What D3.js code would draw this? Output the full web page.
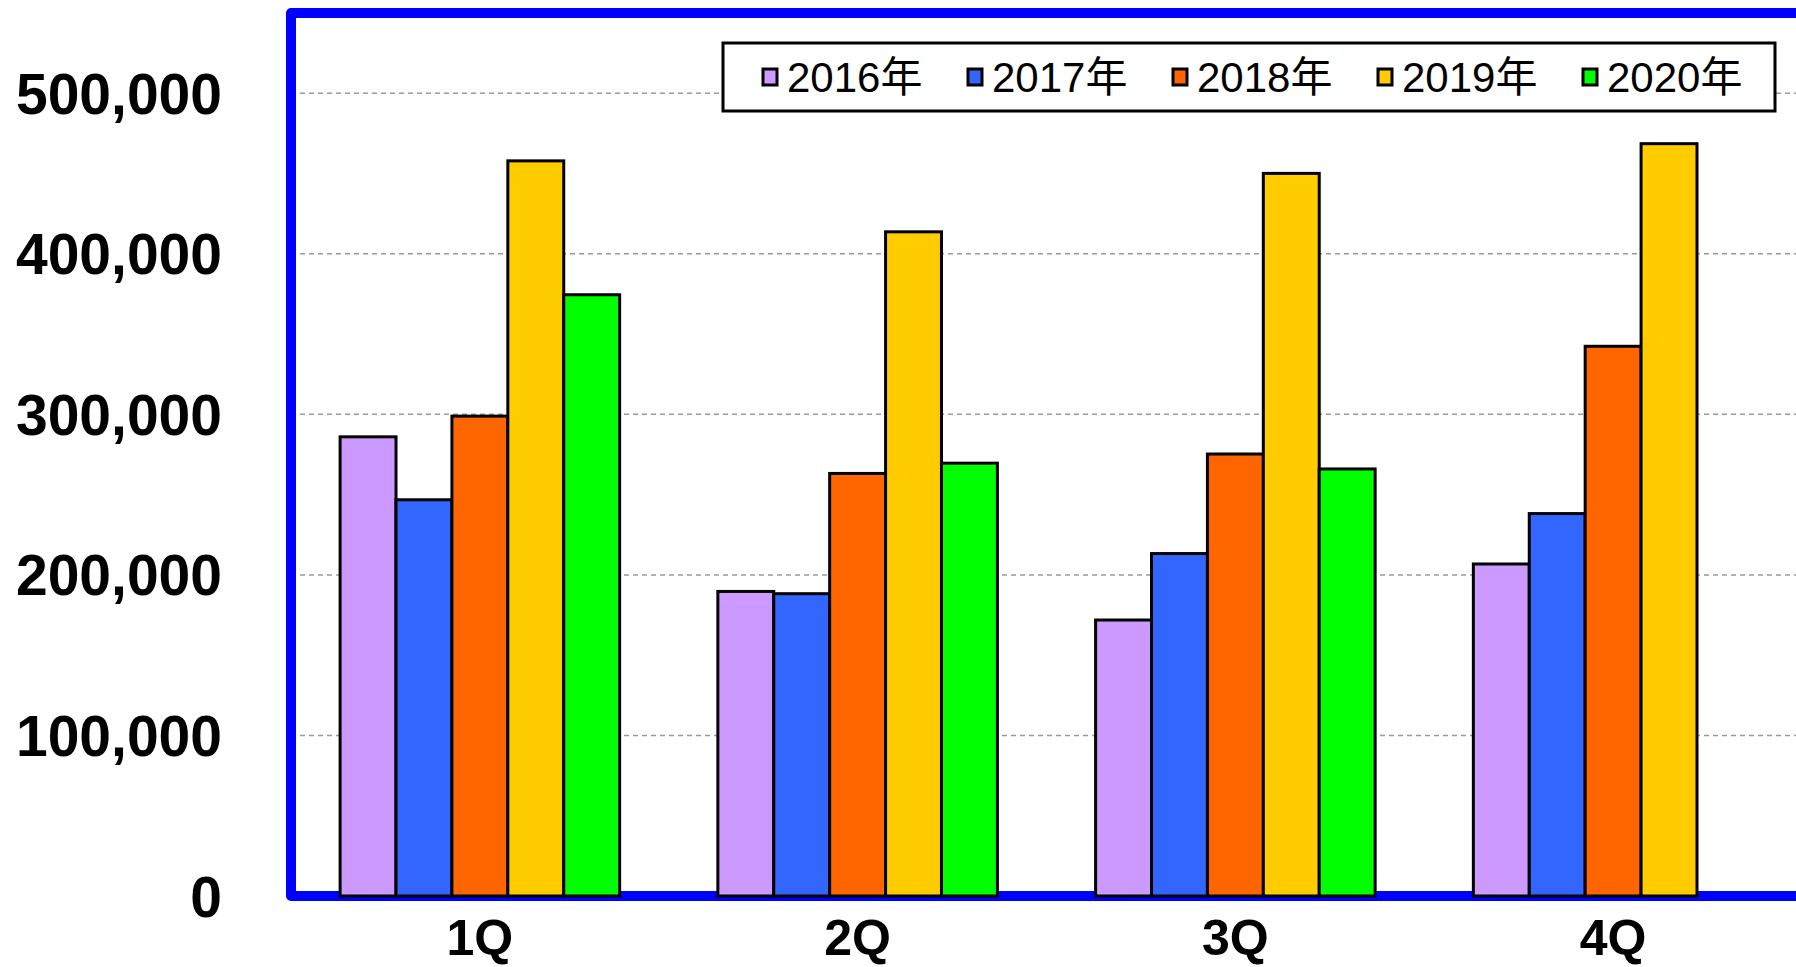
<!DOCTYPE html>
<html>
<head>
<meta charset="utf-8">
<script src="https://cdn.jsdelivr.net/npm/d3@7"></script>
<style>
  body { margin: 0; background: #fff; }
  svg { display: block; }
</style>
</head>
<body>
<div id="my_dataviz"></div>
<script>
// data
var quarters = ["1Q", "2Q", "3Q", "4Q"];
var years = ["2016年", "2017年", "2018年", "2019年", "2020年"];
var colors = ["#CC99FF", "#3366FF", "#FF6600", "#FFCC00", "#00FF00"];
var v2016 = [286000, 189700, 171900, 206800];
var v2017 = [246800, 188300, 213300, 238200];
var v2018 = [298900, 263200, 275300, 342400];
var v2019 = [457900, 413700, 450100, 468600];
var v2020 = [374500, 269600, 266000, null];
var yTicks = [0, 100000, 200000, 300000, 400000, 500000];

var series = [v2016, v2017, v2018, v2019, v2020];

var width = 1796, height = 967;

var svg = d3.select("#my_dataviz")
  .append("svg")
    .attr("width", width)
    .attr("height", height);

// scales
var x = d3.scaleBand()
  .domain(quarters)
  .range([291, 1802])
  .paddingInner(0.26)
  .paddingOuter(0.13);

var xInner = d3.scaleBand()
  .domain(years)
  .range([0, x.bandwidth()]);

var y = d3.scaleLinear()
  .domain([0, 550000])
  .range([896, 13]);

// gridlines
svg.append("g")
  .selectAll("line")
  .data(yTicks.filter(function(d) { return d > 0; }))
  .enter().append("line")
    .attr("x1", 300)
    .attr("x2", width)
    .attr("y1", function(d) { return y(d); })
    .attr("y2", function(d) { return y(d); })
    .attr("stroke", "#9a9a9a")
    .attr("stroke-width", 1.5)
    .attr("stroke-dasharray", "5,4");

// blue frame (right side runs off the page)
svg.append("rect")
  .attr("x", x.range()[0])
  .attr("y", y(550000))
  .attr("width", x.range()[1] - x.range()[0] + 20)
  .attr("height", y(0) - y(550000))
  .attr("fill", "none")
  .attr("stroke", "#0000FF")
  .attr("stroke-width", 10)
  .attr("stroke-linejoin", "round");

// bars
var bars = [];
quarters.forEach(function(q, i) {
  years.forEach(function(yr, j) {
    var v = series[j][i];
    if (v != null) bars.push({q: q, yr: yr, v: v, c: colors[j]});
  });
});

svg.append("g")
  .selectAll("rect")
  .data(bars)
  .enter().append("rect")
    .attr("x", function(d) { return x(d.q) + xInner(d.yr); })
    .attr("y", function(d) { return y(d.v); })
    .attr("width", xInner.bandwidth())
    .attr("height", function(d) { return y(0) - y(d.v); })
    .attr("fill", function(d) { return d.c; })
    .attr("stroke", "#000")
    .attr("stroke-width", 3);

// y axis labels
svg.append("g")
  .selectAll("text")
  .data(yTicks)
  .enter().append("text")
    .attr("x", 222)
    .attr("y", function(d) { return y(d); })
    .attr("dy", "0.36em")
    .attr("text-anchor", "end")
    .style("font-family", "'Liberation Sans', Arial, sans-serif")
    .style("font-size", "57px")
    .style("font-weight", "bold")
    .text(function(d) { return d3.format(",")(d); });

// x axis labels
svg.append("g")
  .selectAll("text")
  .data(quarters)
  .enter().append("text")
    .attr("x", function(d) { return x(d) + x.bandwidth() / 2; })
    .attr("y", 955)
    .attr("text-anchor", "middle")
    .style("font-family", "'Liberation Sans', Arial, sans-serif")
    .style("font-size", "50px")
    .style("font-weight", "bold")
    .text(function(d) { return d; });

// legend
var legend = svg.append("g");
legend.append("rect")
  .attr("x", 723)
  .attr("y", 43)
  .attr("width", 1052)
  .attr("height", 68)
  .attr("fill", "#fff")
  .attr("stroke", "#000")
  .attr("stroke-width", 3);

var item = legend.selectAll("g.item")
  .data(years)
  .enter().append("g")
    .attr("class", "item")
    .attr("transform", function(d, i) { return "translate(" + (763 + i * 205) + ",77)"; });

item.append("rect")
  .attr("x", 0)
  .attr("y", -8)
  .attr("width", 14)
  .attr("height", 16)
  .attr("fill", function(d, i) { return colors[i]; })
  .attr("stroke", "#000")
  .attr("stroke-width", 3);

item.append("text")
  .attr("x", 24)
  .attr("y", 0)
  .attr("dy", "0.36em")
  .style("font-family", "'Liberation Sans', 'Noto Sans CJK JP', sans-serif")
  .style("font-size", "42px")
  .text(function(d) { return d; });
</script>
</body>
</html>
